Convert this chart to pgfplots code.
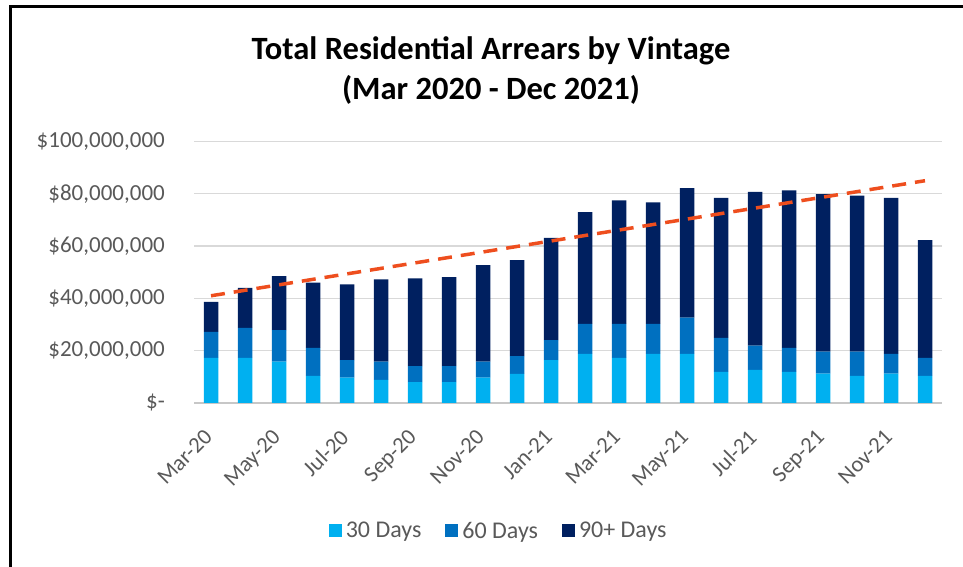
\documentclass[border=0pt]{standalone}
\usepackage{pgfplots}
\pgfplotsset{compat=1.18}
\usepackage{pgfplotstable}
\usepackage{fontspec}
\setmainfont{Carlito}
\definecolor{c30}{HTML}{00B0F0}
\definecolor{c60}{HTML}{0070C0}
\definecolor{c90}{HTML}{002060}
\definecolor{trend}{HTML}{EE4E1E}
\definecolor{tick}{HTML}{595959}
\definecolor{gridc}{HTML}{D9D9D9}
\pgfplotstableread{
x d30 d60 d90
0 17.3 9.9 11.5
1 17.3 11.4 15.3
2 15.8 12.1 20.6
3 10.4 10.7 24.9
4 9.7 6.7 29.0
5 8.8 7.0 31.5
6 8.0 6.1 33.6
7 8.0 6.1 34.0
8 9.7 6.1 36.9
9 11.1 6.8 36.7
10 16.4 7.6 39.1
11 18.8 11.5 42.7
12 17.3 13.0 47.2
13 18.8 11.5 46.4
14 18.8 13.8 49.6
15 11.9 13.0 53.5
16 12.7 9.2 58.8
17 11.9 9.2 60.2
18 11.2 8.4 60.3
19 10.4 9.2 59.7
20 11.2 7.6 59.6
21 10.4 6.9 45.0
}\datatable
\pgfplotstableread{
x y
0 41.0
21 85.0
}\trendtable
\begin{document}
\begin{tikzpicture}[x=1bp,y=1bp]
\useasboundingbox (0,0) rectangle (963,567);
\draw[line width=3bp, line cap=rect] (10,-5) -- (10,560) -- (970,560);
\node[font=\fontsize{32.5bp}{38bp}\selectfont\bfseries, anchor=base] at (491,507) {Total Residential Arrears by Vintage};
\node[font=\fontsize{32.5bp}{38bp}\selectfont\bfseries, anchor=base] at (491,467) {(Mar 2020 - Dec 2021)};
\begin{axis}[
  at={(194bp,164bp)}, anchor=south west,
  scale only axis, width=748bp, height=261.5bp,
  ybar stacked, bar width=14.5bp,
  xmin=-0.5, xmax=21.5, ymin=0, ymax=100,
  axis x line*=bottom, axis y line*=left,
  x axis line style={draw=gridc!80!gray, line width=1.2bp},
  y axis line style={draw=none},
  major tick length=0pt,
  ymajorgrids, grid style={gridc, line width=1.3bp},
  ytick={0,20,40,60,80,100},
  yticklabels={\$-\hspace{8bp},{\$20,000,000},{\$40,000,000},{\$60,000,000},{\$80,000,000},{\$100,000,000}},
  yticklabel style={font=\fontsize{23bp}{26bp}\selectfont, text=tick, anchor=east, inner sep=0pt, xshift=-29bp},
  xtick={0,2,...,20},
  xticklabels={Mar-20,May-20,Jul-20,Sep-20,Nov-20,Jan-21,Mar-21,May-21,Jul-21,Sep-21,Nov-21},
  xticklabel style={font=\fontsize{22.5bp}{25bp}\selectfont, text=tick, xshift=-8bp, yshift=-25bp, rotate=45, anchor=north east, inner sep=0pt},
  legend style={at={(0.406,-0.489)}, anchor=center, draw=none, fill=none,
    font=\fontsize{24bp}{28bp}\selectfont, text=tick, legend columns=3,
    nodes={inner sep=0pt},
    /tikz/every odd column/.style={column sep=4bp},
    /tikz/every even column/.style={column sep=24bp}, inner sep=0pt},
  legend cell align=left,
  legend image code/.code={\fill[#1] (0bp,-6.5bp) rectangle (13bp,6.5bp);},
]
\addplot[fill=c30, draw=none] table[x=x, y=d30] {\datatable};
\addplot[fill=c60, draw=none] table[x=x, y=d60] {\datatable};
\addplot[fill=c90, draw=none] table[x=x, y=d90] {\datatable};
\legend{30 Days, 60 Days, 90+ Days}
\end{axis}
\begin{axis}[
  at={(194bp,164bp)}, anchor=south west,
  scale only axis, width=748bp, height=261.5bp,
  xmin=-0.5, xmax=21.5, ymin=0, ymax=100,
  hide axis,
]
\addplot[trend, line width=3.5bp, dash pattern=on 14bp off 9bp, no marks] table[x=x, y=y] {\trendtable};
\end{axis}
\end{tikzpicture}
\end{document}
